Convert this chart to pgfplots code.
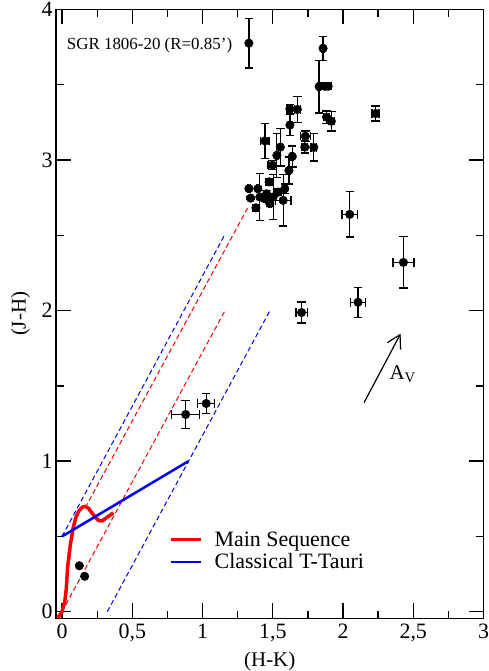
\documentclass[border=0pt]{standalone}
\usepackage{fontspec}
\setmainfont{Liberation Serif}
\usepackage{pgfplots}
\pgfplotsset{compat=1.18}
\usepackage{pgfplotstable}
\usetikzlibrary{arrows.meta}

% x  y  ex  ey
\pgfplotstableread{
x     y     ex    ey
1.330 3.776 0.01  0.165
1.858 3.742 0.01  0.08
1.830 3.488 0.01  0.175
1.871 3.490 0.02  0.01
1.894 3.490 0.02  0.01
1.883 3.285 0.02  0.04
1.917 3.258 0.02  0.065
2.231 3.309 0.025 0.05
1.622 3.340 0.02  0.03
1.675 3.336 0.02  0.085
1.622 3.233 0.01  0.07
1.444 3.127 0.03  0.115
1.732 3.158 0.035 0.035
1.728 3.086 0.02  0.04
1.792 3.084 0.02  0.09
1.554 3.086 0.01  0.125
1.529 3.031 0.01  0.145
1.639 3.024 0.01  0.07
1.497 2.966 0.03  0.03
1.615 2.931 0.01  0.09
1.474 2.855 0.02  0.02
1.330 2.810 0.01  0.01
1.394 2.810 0.01  0.01
1.586 2.810 0.01  0.03
1.342 2.747 0.01  0.01
1.408 2.754 0.01  0.155
1.444 2.743 0.01  0.02
1.503 2.754 0.01  0.15
1.538 2.787 0.01  0.02
1.574 2.732 0.055 0.17
1.380 2.682 0.01  0.02
1.479 2.710 0.01  0.02
1.456 2.776 0.01  0.02
2.048 2.639 0.055 0.15
2.430 2.320 0.075 0.17
2.107 2.055 0.054 0.10
1.705 1.987 0.04  0.07
0.880 1.310 0.10  0.095
1.026 1.383 0.06  0.065
0.123 0.305 0     0
0.161 0.235 0     0
}\stars

\begin{document}
\begin{tikzpicture}
\begin{axis}[
  scale only axis, width=427.5bp, height=608.8bp,
  xmin=-0.043, xmax=3, ymin=-0.044, ymax=4,
  xtick={0,0.5,...,3}, ytick={0,1,2,3,4},
  minor x tick num=1, minor y tick num=1,
  tick align=inside, tick pos=both,
  major tick length=15bp, minor tick length=7.5bp,
  axis line style={line width=1.3bp},
  every tick/.style={line width=1.3bp, black},
  /pgf/number format/use comma,
  /pgf/number format/assume math mode=true,
  tick label style={font=\fontsize{22}{26}\selectfont},
  xticklabel style={yshift=-2bp},
  label style={font=\fontsize{21}{25}\selectfont},
  xlabel={(H-K)}, ylabel={(J-H)},
  xlabel style={at={(axis description cs:0.5,-0.0713)}, anchor=center},
  ylabel style={at={(axis description cs:-0.0826,0.5)}, anchor=center},
  legend style={draw=none, fill=none, at={(axis cs:0.74,0.56)}, anchor=north west,
    font=\fontsize{22}{26}\selectfont, row sep=2bp,
    /tikz/every odd column/.append style={column sep=10bp}},
  legend cell align=left,
  legend image code/.code={\draw[#1] (0bp,0bp) -- (30bp,0bp);},
]
% reddening lines
\addplot[forget plot, red, dash pattern=on 5bp off 3bp, line width=1bp] coordinates {(0.165,0.69) (1.32,2.68)};
\addplot[forget plot, red, dash pattern=on 5bp off 3bp, line width=1bp] coordinates {(0,0) (1.16,2.0)};
\addplot[forget plot, blue, dash pattern=on 5bp off 3bp, line width=1bp] coordinates {(0,0.5) (1.156,2.5)};
\addplot[forget plot, blue, dash pattern=on 5bp off 3bp, line width=1bp] coordinates {(0.322,0) (1.48,2.0)};
% main sequence
\addplot[red, line width=3.5bp, line join=round] coordinates {
(-0.03,-0.04) (0.0,0.0) (0.02,0.07) (0.03,0.15) (0.04,0.3) (0.06,0.45) (0.08,0.56)
(0.1,0.63) (0.12,0.67) (0.145,0.695) (0.165,0.70) (0.19,0.685) (0.21,0.66)
(0.235,0.63) (0.26,0.605) (0.285,0.603) (0.31,0.62) (0.34,0.64) (0.365,0.657)};
\addlegendentry{Main Sequence}
% CTTS locus
\addplot[blue, line width=2.5bp] coordinates {(0,0.5) (0.9,1.0)};
\addlegendentry{Classical T-Tauri}
% stars
\addplot[forget plot, only marks, mark=*, mark size=4.3bp, black,
  error bars/.cd, x dir=both, x explicit, y dir=both, y explicit,
  error bar style={line width=1.3bp, black},
  error mark options={rotate=90, mark size=4.2bp, line width=1.3bp, black}]
  table[x=x, y=y, x error=ex, y error=ey] {\stars};
\draw[line width=1.2bp, -{Straight Barb[length=13bp, width=15bp]}] (axis cs:2.15,1.389) -- (axis cs:2.41,1.847);
\node[font=\fontsize{21}{25}\selectfont] at (axis cs:2.425,1.58) {A\textsubscript{V}};
\node[anchor=west, inner sep=0pt, font=\fontsize{17}{20}\selectfont] at (axis cs:0.033,3.76) {SGR 1806-20 (R=0.85’)};
\end{axis}
\pgfresetboundingbox
\path[use as bounding box] (current axis.south west) ++(-56bp,-52.7bp) rectangle ([shift={(5.5bp,9.5bp)}]current axis.north east);
\end{tikzpicture}
\end{document}
